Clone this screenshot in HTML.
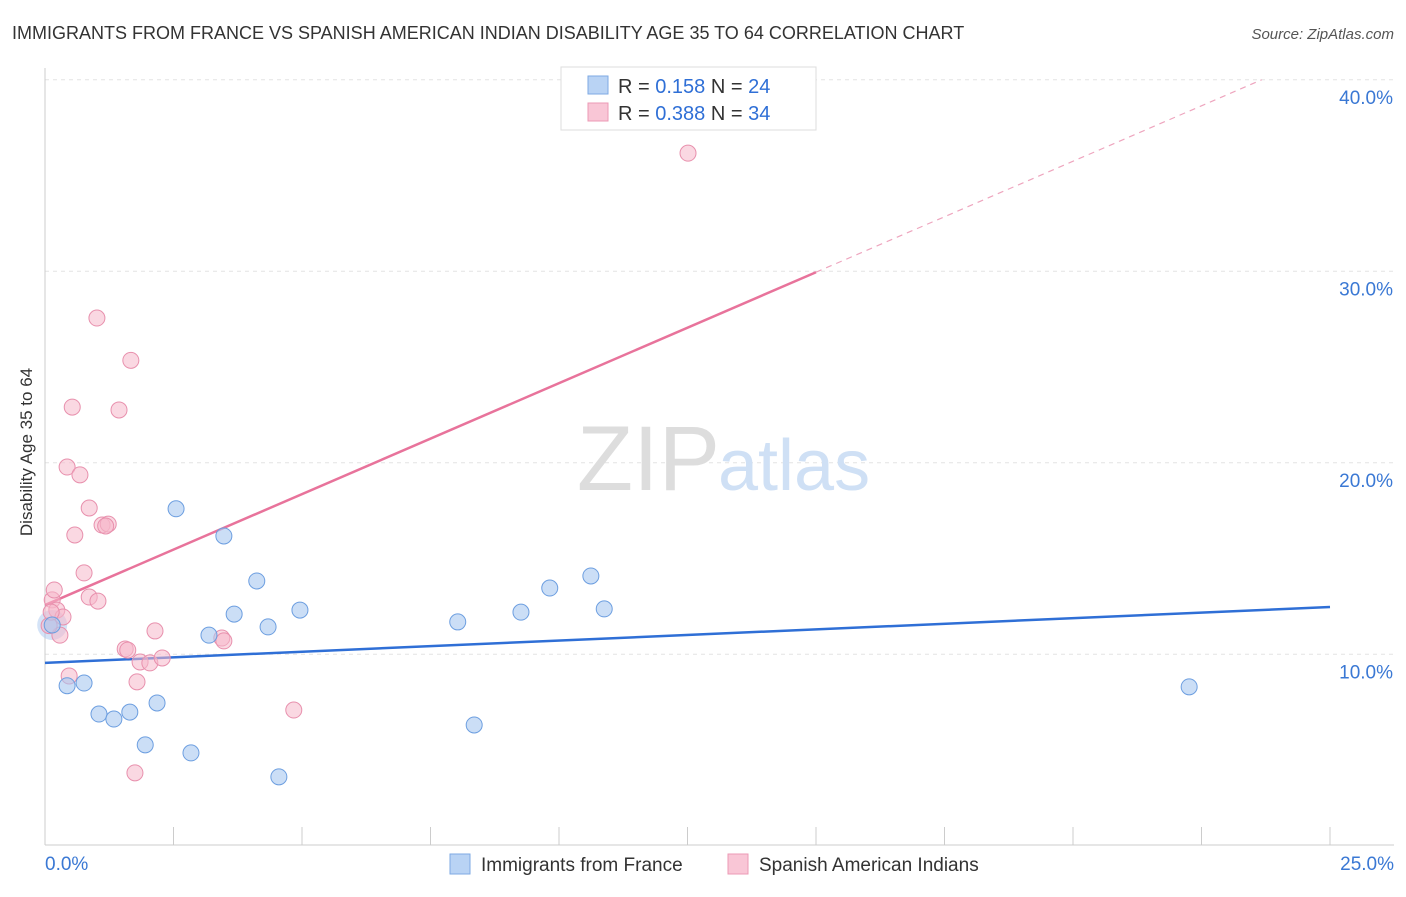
<!DOCTYPE html>
<html><head><meta charset="utf-8"><style>
body{margin:0;background:#fff;font-family:"Liberation Sans",sans-serif;}
svg text{font-family:"Liberation Sans",sans-serif;}
</style></head><body>
<svg id="chart" width="1406" height="892">
<text x="12" y="39" font-size="18" fill="#333">IMMIGRANTS FROM FRANCE VS SPANISH AMERICAN INDIAN DISABILITY AGE 35 TO 64 CORRELATION CHART</text>
<text x="1394" y="39" font-size="15" fill="#555" font-style="italic" text-anchor="end">Source: ZipAtlas.com</text>
<text x="36" y="456" font-size="17" fill="#333" text-anchor="middle" transform="rotate(-90 32 456)">Disability Age 35 to 64</text>
<g id="grid"></g>
<text x="720" y="490" font-size="92" fill="#ddd" font-family="Liberation Serif" text-anchor="end">ZIP</text>
<text x="718" y="490" font-size="72" fill="#cfe0f5">atlas</text>
<g id="lines"></g>
<g id="points"></g>
<g>
<rect x="561" y="67" width="255" height="63" fill="#fff" stroke="#ddd"/>
<rect x="588" y="76" width="20" height="18" fill="#b9d3f4" stroke="#7ea9e3"/>
<rect x="588" y="103" width="20" height="18" fill="#f9c6d6" stroke="#ec9ab5"/>
<text x="618" y="93" font-size="20" fill="#333">R = <tspan fill="#2f6fd6">0.158</tspan>   N = <tspan fill="#2f6fd6">24</tspan></text>
<text x="618" y="120" font-size="20" fill="#333">R = <tspan fill="#2f6fd6">0.388</tspan>   N = <tspan fill="#2f6fd6">34</tspan></text>
</g>
<g>
<rect x="450" y="854" width="20" height="20" fill="#b9d3f4" stroke="#7ea9e3"/>
<text x="481" y="871" font-size="19" fill="#333">Immigrants from France</text>
<rect x="728" y="854" width="20" height="20" fill="#f9c6d6" stroke="#ec9ab5"/>
<text x="759" y="871" font-size="19" fill="#333">Spanish American Indians</text>
</g>
</svg>
<script>
const xTicks=[0,2.5,5,7.5,10,12.5,15,17.5,20,22.5,25];
const yTicks=[10,20,30,40];
const yTickLabels=["10.0%","20.0%","30.0%","40.0%"];
const xEndLabels=["0.0%","25.0%"];
const franceX=[0.14,0.43,0.76,1.05,1.34,1.65,1.95,2.18,2.55,2.84,3.19,3.48,3.68,4.12,4.34,4.55,4.96,8.03,8.35,9.26,9.82,10.62,10.88,22.26];
const franceY=[11.53,8.36,8.5,6.88,6.62,6.98,5.27,7.46,17.6,4.85,11.0,16.18,12.1,13.83,11.43,3.6,12.31,11.69,6.31,12.2,13.46,14.09,12.37,8.3];
const spanishX=[0.14,0.18,0.23,0.29,0.35,0.43,0.47,0.53,0.58,0.68,0.76,0.86,0.86,1.01,1.03,1.11,1.23,1.44,1.56,1.61,1.67,1.79,1.75,1.85,2.04,2.14,2.28,3.44,3.48,4.84,12.51,0.08,0.12,1.18];
const spanishY=[12.84,13.36,12.31,11.0,11.95,19.78,8.87,22.91,16.23,19.37,14.25,17.64,12.99,27.56,12.78,16.75,16.8,22.76,10.28,10.22,25.35,8.56,3.81,9.6,9.55,11.22,9.81,10.85,10.7,7.09,36.17,11.5,12.2,16.7];
const franceLine=[9.55,12.47];
const spanishLine=[12.57,41.54];
const xs=v=>45+v*51.4, ys=v=>845.8-v*19.15;
const NS="http://www.w3.org/2000/svg";
function mk(t,a,p){const e=document.createElementNS(NS,t);for(const k in a)e.setAttribute(k,a[k]);p.appendChild(e);return e;}
const grid=document.getElementById('grid');
yTicks.forEach((t,i)=>{
 const l=mk('line',{x1:45,x2:1394,y1:ys(t),y2:ys(t),stroke:'#e4e4e4','stroke-dasharray':'4,4'},grid);
 
 
 const tx=mk('text',{x:1393,y:ys(t)+24,'font-size':19,fill:'#3a78d4','text-anchor':'end'},grid);
 tx.textContent=yTickLabels[i];
 
 
});
const ax=mk('line',{x1:45,x2:1394,y1:845,y2:845,stroke:'#ccc'},grid);


const ay=mk('line',{x1:45,x2:45,y1:68,y2:845,stroke:'#ccc'},grid);


xTicks.forEach(t=>{
 const l=mk('line',{x1:xs(t),x2:xs(t),y1:827,y2:845,stroke:'#ccc'},grid);
 
 
});
[[0,'start',45],[25,'end',1394]].forEach((d,i)=>{
 const tx=mk('text',{x:d[2],y:870,'font-size':19,fill:'#3a78d4','text-anchor':d[1]},grid);
 tx.textContent=xEndLabels[i];
 
 
});
const pts=document.getElementById('points');
const big=mk('circle',{cx:xs(franceX[0]),cy:ys(franceY[0]),r:15,fill:'rgba(169,200,240,0.5)',stroke:'none'},pts);


spanishX.forEach((x,i)=>{
 const c=mk('circle',{cx:xs(x),cy:ys(spanishY[i]),r:8,fill:'rgba(246,184,203,0.55)',stroke:'#e890ad','stroke-width':1},pts);
 
 
});
franceX.forEach((x,i)=>{
 const c=mk('circle',{cx:xs(x),cy:ys(franceY[i]),r:8,fill:'rgba(169,200,240,0.6)',stroke:'#6c9ee0','stroke-width':1},pts);
 
 
});
const lg=document.getElementById('lines');
const fl=mk('line',{x1:xs(0),y1:ys(franceLine[0]),x2:xs(25),y2:ys(franceLine[1]),stroke:'#2f6fd6','stroke-width':2.5},lg);


const sl=(spanishLine[1]-spanishLine[0])/25;
const sp=mk('line',{x1:xs(0),y1:ys(spanishLine[0]),x2:xs(15),y2:ys(spanishLine[0]+sl*15),stroke:'#e8739b','stroke-width':2.5},lg);


const xe=(40-spanishLine[0])/sl;
const sd=mk('line',{x1:xs(15),y1:ys(spanishLine[0]+sl*15),x2:xs(xe),y2:ys(40),stroke:'#eea5be','stroke-width':1.2,'stroke-dasharray':'6,5'},lg);


</script>
</body></html>
